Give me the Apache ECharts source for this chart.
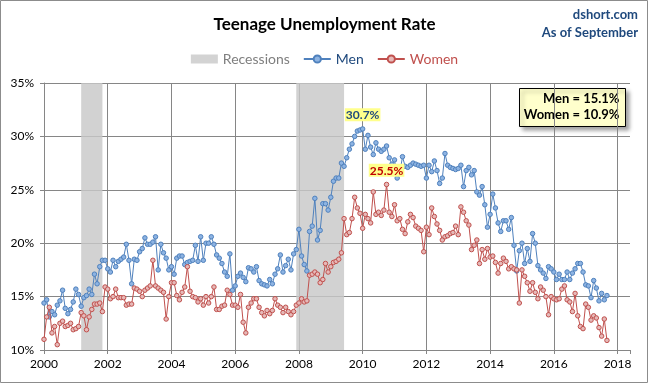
<!DOCTYPE html>
<html><head><meta charset="utf-8">
<script src="https://cdn.jsdelivr.net/npm/echarts@6/dist/echarts.min.js"></script>
<style>html,body{margin:0;padding:0;background:#fff}#c{width:649px;height:384px}</style>
</head><body><div id="c"></div>
<script>
const startYear = 2000;
const men = [
14.4,14.7,13.1,13.6,13.3,14.2,14.6,15.6,13.9,13.4,13.8,14.5,
15.7,15.2,14.1,14.9,15.1,15.7,15.2,17.1,16.2,17.8,18.4,18.4,
17.6,17.3,18.4,17.8,18.3,18.5,18.7,19.9,18.4,16.2,18.5,18.4,
19.2,19.5,20.5,19.9,19.9,20.1,20.6,17.5,19.9,19.1,18.6,17.5,
17.8,17.1,18.6,18.8,18.8,18.0,18.2,18.3,18.4,19.8,18.3,20.6,
18.4,20.0,20.0,20.6,19.9,18.9,18.6,18.1,17.3,16.9,19.0,15.6,
16.0,16.9,17.2,16.8,16.4,17.7,17.6,17.3,17.8,16.5,16.2,16.1,
16.0,16.6,16.2,17.1,17.6,18.9,17.3,17.9,18.5,17.5,19.0,19.4,
21.3,18.8,18.0,17.4,21.1,21.6,24.2,20.3,21.2,23.7,23.7,23.1,
24.3,25.8,26.1,26.1,27.5,27.2,28.0,28.8,29.3,30.0,30.5,30.6,
30.7,28.8,30.1,29.0,28.3,29.4,28.8,28.6,28.8,29.1,28.0,27.4,
27.8,26.1,26.6,28.1,27.2,27.1,27.3,27.5,27.4,27.3,27.2,27.3,
26.1,27.3,26.7,27.7,26.8,25.6,26.1,28.4,27.3,27.1,27.0,26.9,
27.0,27.3,25.3,26.8,27.1,26.4,26.8,24.8,24.5,25.3,23.6,21.5,
22.7,24.6,23.3,21.9,21.1,22.1,22.1,21.3,22.4,19.8,17.4,19.3,
20.0,18.1,19.5,18.3,20.9,20.0,17.9,17.5,17.2,16.7,17.8,17.6,
17.3,16.6,17.1,16.6,16.6,17.3,16.6,17.2,17.6,18.1,18.1,17.3,
16.1,16.0,14.9,16.5,15.8,14.6,15.3,14.7,15.1
];
const women = [
11.0,13.1,14.0,11.6,12.2,10.5,12.5,12.7,12.2,12.3,12.5,11.9,
12.0,12.2,13.5,13.2,11.9,13.1,13.8,14.3,14.3,14.4,13.6,15.9,
15.7,14.8,15.0,15.7,14.9,14.9,14.9,14.2,14.3,14.3,15.8,15.7,
15.5,15.0,15.6,15.8,16.0,18.4,16.0,15.8,15.6,15.4,12.9,15.0,
16.3,16.3,15.1,14.7,15.4,15.9,17.8,15.5,15.0,14.9,14.5,14.8,
14.2,15.0,14.4,15.0,15.9,13.8,13.8,14.1,14.2,15.6,15.2,14.2,
14.2,14.0,15.2,12.6,11.6,14.0,14.4,14.8,14.8,14.0,13.5,13.2,
13.7,13.4,13.7,14.8,14.2,14.0,13.5,14.0,13.6,13.3,13.6,14.2,
14.4,14.8,14.5,14.6,17.0,17.1,17.3,17.1,16.3,16.6,18.1,17.3,
17.8,18.2,18.3,18.5,19.1,22.3,20.8,21.0,22.3,24.3,23.3,22.8,
21.4,22.7,22.3,21.9,24.8,22.7,22.9,22.6,23.1,25.5,22.9,22.5,
23.6,22.1,22.3,21.3,20.9,22.0,22.7,22.4,21.6,21.4,21.2,19.2,
21.5,20.8,23.3,22.5,21.8,21.2,20.3,20.6,20.7,20.9,21.0,21.6,
20.8,23.4,22.9,22.1,21.7,19.4,19.8,20.3,18.1,19.4,18.5,19.5,
18.7,18.8,18.2,17.2,18.1,18.6,18.3,17.6,17.8,17.6,17.5,14.4,
17.5,16.9,16.3,15.5,16.3,15.4,14.8,15.9,15.6,15.0,13.3,15.0,
14.8,14.7,14.8,15.7,16.0,14.7,14.5,13.6,15.3,13.2,12.2,12.0,
14.3,14.0,12.8,13.2,13.0,12.1,11.3,12.9,10.9
];
const recessionStart = ['2001-03', '2007-12'];
const recessionEnd = ['2001-11', '2009-06'];
const yTicks = [10, 15, 20, 25, 30, 35];
const xTickYears = [2000, 2002, 2004, 2006, 2008, 2010, 2012, 2014, 2016, 2018];
const latestMonth = 'September';

function ym(s) { const [y, m] = s.split('-').map(Number); return y + (m - 1) / 12; }
function toXY(arr) { return arr.map((v, i) => [startYear + i / 12, v]); }

function withPeakLabel(arr, textColor) {
  let mi = 0;
  arr.forEach((v, i) => { if (v > arr[mi]) mi = i; });
  return toXY(arr).map((p, i) => i === mi ? {
    value: p,
    label: {
      show: true, position: 'top', distance: 5,
      formatter: (d) => d.value[1].toFixed(1) + '%',
      color: textColor, backgroundColor: '#FFFF8C',
      fontFamily: 'Lato, sans-serif', fontWeight: 'bold', fontSize: 12,
      padding: [1, 1, 0, 1]
    }
  } : p);
}

const FONT = 'Lato, "Open Sans", sans-serif';
const chart = echarts.init(document.getElementById('c'), null, { renderer: 'canvas' });
const lastMen = men[men.length - 1], lastWomen = women[women.length - 1];

chart.setOption({
  animation: false,
  backgroundColor: '#fff',
  title: {
    text: 'Teenage Unemployment Rate', left: 'center', top: 11,
    textStyle: { fontFamily: FONT, fontWeight: 'bold', fontSize: 17, color: '#000' }
  },
  legend: {
    top: 47, left: 'center', itemWidth: 27, itemHeight: 9, itemGap: 13,
    textStyle: { fontFamily: FONT, fontSize: 14 },
    data: [
      { name: 'Recessions', icon: 'rect', itemStyle: { color: '#D3D3D3' }, textStyle: { color: '#7F7F7F' } },
      { name: 'Men', textStyle: { color: '#1F497D' } },
      { name: 'Women', textStyle: { color: '#C0504D' } }
    ]
  },
  grid: { left: 44, top: 83, width: 586, height: 267, containLabel: false },
  xAxis: {
    type: 'value', min: 2000, max: 2018.39, interval: 2,
    axisLine: { show: true, lineStyle: { color: '#868686' } },
    axisTick: { show: true, length: 4, lineStyle: { color: '#868686' } },
    splitLine: { show: true, showMaxLine: false, lineStyle: { color: '#868686', width: 1 } },
    axisLabel: {
      fontFamily: FONT, fontSize: 12, color: '#000', margin: 8,
      formatter: (v) => xTickYears.includes(v) ? String(v) : ''
    }
  },
  yAxis: {
    type: 'value', min: yTicks[0], max: yTicks[yTicks.length - 1], interval: 5,
    axisLine: { show: true, lineStyle: { color: '#868686' } },
    axisTick: { show: true, length: 4, lineStyle: { color: '#868686' } },
    splitLine: { show: true, lineStyle: { color: '#868686', width: 1 } },
    axisLabel: { fontFamily: FONT, fontSize: 12, color: '#000', margin: 10, formatter: '{value}%' }
  },
  series: [
    {
      name: 'Recessions', type: 'line', data: [], z: -1, color: '#D3D3D3',
      markArea: {
        silent: true,
        itemStyle: { color: 'rgba(200,200,200,0.82)' },
        data: recessionStart.map((s, i) => [{ xAxis: ym(s) }, { xAxis: ym(recessionEnd[i]) }])
      }
    },
    {
      name: 'Men', type: 'line', data: withPeakLabel(men, '#1F497D'),
      symbol: 'circle', symbolSize: 4.5, color: '#4F81BD',
      lineStyle: { color: '#4F81BD', width: 1 },
      itemStyle: { color: '#8DB3E2', borderColor: '#4F81BD', borderWidth: 1 },
      z: 3
    },
    {
      name: 'Women', type: 'line', data: withPeakLabel(women, '#C00000'),
      symbol: 'circle', symbolSize: 4.5, color: '#C0504D',
      lineStyle: { color: '#C0504D', width: 1 },
      itemStyle: { color: '#E6B9B8', borderColor: '#C0504D', borderWidth: 1 },
      z: 4
    }
  ],
  graphic: [
    { type: 'rect', shape: { x: 0.5, y: 0.5, width: 647, height: 382 }, style: { fill: 'none', stroke: '#8C8C8C', lineWidth: 1 }, silent: true },
    { type: 'text', right: 11, top: 8, style: { text: 'dshort.com', fill: '#1F497D', font: 'bold 13px ' + FONT, textAlign: 'right' } },
    { type: 'text', right: 11, top: 26, style: { text: 'As of ' + latestMonth, fill: '#1F497D', font: 'bold 13px ' + FONT, textAlign: 'right' } },
    {
      type: 'group', left: 519, top: 88, children: [
        { type: 'rect', shape: { x: 0, y: 0, width: 106, height: 38 }, style: { fill: '#FFFFCC', stroke: '#000', lineWidth: 1, shadowBlur: 4, shadowOffsetX: 3, shadowOffsetY: 3, shadowColor: 'rgba(0,0,0,0.35)' } },
        { type: 'text', x: 100, y: 4, style: { text: 'Men = ' + lastMen.toFixed(1) + '%', fill: '#000', font: 'bold 13px ' + FONT, textAlign: 'right' } },
        { type: 'text', x: 100, y: 20, style: { text: 'Women = ' + lastWomen.toFixed(1) + '%', fill: '#000', font: 'bold 13px ' + FONT, textAlign: 'right' } }
      ]
    }
  ]
});
</script></body></html>
